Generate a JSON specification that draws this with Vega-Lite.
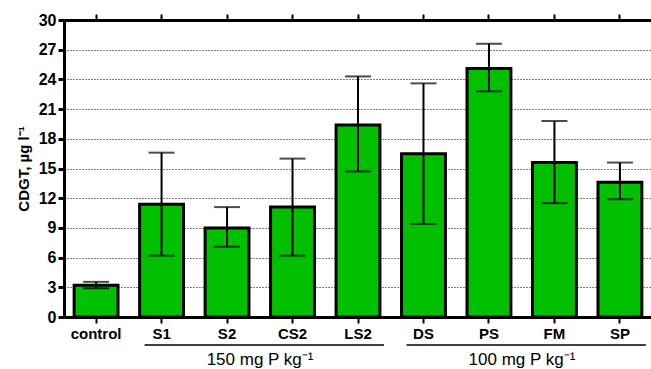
{
  "$schema": "https://vega.github.io/schema/vega-lite/v6.json",
  "autosize": {"type": "none"},
  "width": 588,
  "height": 297,
  "padding": {"left": 64, "top": 20, "right": 0, "bottom": 52},
  "background": "white",
  "config": {
    "view": {"stroke": null},
    "font": "Liberation Sans",
    "axisY": {
      "labelOverlap": false,
      "titleFont": "Liberation Sans", "titleFontSize": 15, "titleFontWeight": "bold",
      "titleColor": "black", "titlePadding": 7,
      "labelFont": "Liberation Sans", "labelFontSize": 16, "labelFontWeight": "bold",
      "labelColor": "black", "labelPadding": 2,
      "domainColor": "black", "domainWidth": 3,
      "tickColor": "black", "tickWidth": 3, "tickSize": 6,
      "grid": true, "gridColor": "black", "gridDash": [1, 2], "gridWidth": 1
    }
  },
  "datasets": {
    "bars": [
      {"treatment": "control", "mean": 3.2, "lo": 2.9, "hi": 3.55},
      {"treatment": "S1", "mean": 11.4, "lo": 6.2, "hi": 16.6},
      {"treatment": "S2", "mean": 9.0, "lo": 7.1, "hi": 11.1},
      {"treatment": "CS2", "mean": 11.1, "lo": 6.2, "hi": 16.0},
      {"treatment": "LS2", "mean": 19.4, "lo": 14.7, "hi": 24.3},
      {"treatment": "DS", "mean": 16.5, "lo": 9.4, "hi": 23.6},
      {"treatment": "PS", "mean": 25.1, "lo": 22.8, "hi": 27.6},
      {"treatment": "FM", "mean": 15.6, "lo": 11.5, "hi": 19.8},
      {"treatment": "SP", "mean": 13.6, "lo": 11.9, "hi": 15.6}
    ],
    "groups": [
      {"start": "S1", "end": "LS2", "mid": "S2", "label": "150 mg P kg⁻¹"},
      {"start": "DS", "end": "SP", "mid": "PS", "label": "100 mg P kg⁻¹"}
    ]
  },
  "resolve": {"axis": {"x": "independent"}},
  "layer": [
    {
      "data": {"name": "bars"},
      "mark": {"type": "bar", "fill": "#00C000", "stroke": "black", "strokeWidth": 3},
      "encoding": {
        "x": {
          "field": "treatment", "type": "nominal", "sort": null,
          "scale": {"paddingInner": 0.33, "paddingOuter": 0.155},
          "axis": {
            "orient": "bottom", "title": null, "labelAngle": 0,
            "labelFont": "Liberation Sans", "labelFontSize": 15, "labelFontWeight": "bold",
            "labelColor": "black", "labelPadding": 3,
            "domainColor": "black", "domainWidth": 3,
            "tickColor": "black", "tickWidth": 2, "tickSize": 6
          }
        },
        "y": {
          "field": "mean", "type": "quantitative",
          "scale": {"domain": [0, 30], "nice": false, "zero": true},
          "axis": {"title": "CDGT, µg l⁻¹", "values": [0, 3, 6, 9, 12, 15, 18, 21, 24, 27, 30]}
        }
      }
    },
    {
      "data": {"name": "bars"},
      "mark": {"type": "errorbar", "color": "black", "ticks": {"size": 26, "thickness": 2}, "rule": {"strokeWidth": 2}},
      "encoding": {
        "x": {
          "field": "treatment", "type": "nominal", "sort": null,
          "axis": {"orient": "top", "title": null, "labels": false,
            "domainColor": "black", "domainWidth": 3,
            "tickColor": "black", "tickWidth": 2, "tickSize": 6}
        },
        "y": {"field": "lo", "type": "quantitative", "axis": {"title": "CDGT, µg l⁻¹", "values": [0, 3, 6, 9, 12, 15, 18, 21, 24, 27, 30]}},
        "y2": {"field": "hi"}
      }
    },
    {
      "data": {"name": "groups"},
      "mark": {"type": "rule", "color": "black", "strokeWidth": 1.5, "xOffset": -17, "x2Offset": 26, "yOffset": 28},
      "encoding": {
        "x": {"field": "start", "type": "nominal", "sort": null, "axis": null},
        "x2": {"field": "end"},
        "y": {"datum": 0, "axis": {"title": "CDGT, µg l⁻¹", "values": [0, 3, 6, 9, 12, 15, 18, 21, 24, 27, 30]}}
      }
    },
    {
      "data": {"name": "groups"},
      "mark": {"type": "text", "color": "black", "font": "Liberation Sans", "fontSize": 17, "align": "center", "baseline": "alphabetic", "dx": 33, "dy": 48},
      "encoding": {
        "x": {"field": "mid", "type": "nominal", "sort": null, "axis": null},
        "y": {"datum": 0, "axis": {"title": "CDGT, µg l⁻¹", "values": [0, 3, 6, 9, 12, 15, 18, 21, 24, 27, 30]}},
        "text": {"field": "label"}
      }
    }
  ]
}
